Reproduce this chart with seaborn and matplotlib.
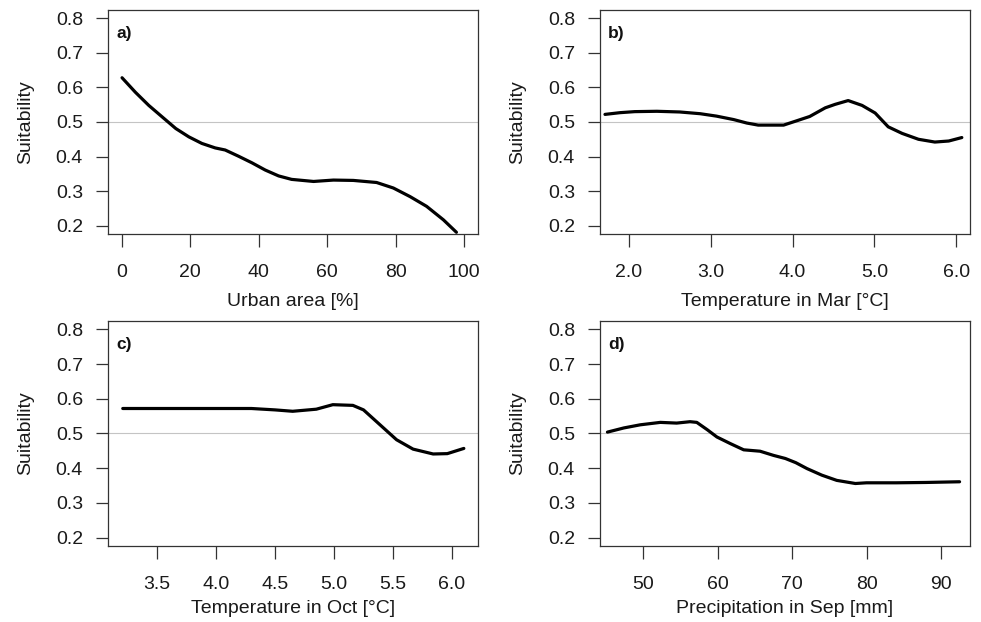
import seaborn as sns
import matplotlib.pyplot as plt
import pandas as pd
import numpy as np

# -------------------------------
# Response curves
# -------------------------------
urban_x = [0.1, 4.0, 7.9, 11.9, 15.8, 19.6, 23.4, 27.3, 30.2, 34.1, 38.0, 41.9, 45.8,
           49.6, 56.0, 61.8, 67.6, 74.4, 79.3, 84.2, 89.0, 93.9, 97.7]
urban_y = [0.628, 0.586, 0.548, 0.514, 0.481, 0.457, 0.438, 0.425, 0.419, 0.401, 0.382,
           0.361, 0.344, 0.334, 0.328, 0.332, 0.331, 0.325, 0.309, 0.284, 0.256, 0.217, 0.181]

tmar_x = [1.706, 1.89, 2.07, 2.34, 2.62, 2.87, 3.07, 3.28, 3.44, 3.58, 3.89, 4.07, 4.21,
          4.40, 4.52, 4.68, 4.85, 5.01, 5.17, 5.34, 5.54, 5.74, 5.91, 6.07]
tmar_y = [0.522, 0.527, 0.530, 0.531, 0.529, 0.524, 0.517, 0.507, 0.497, 0.491, 0.491,
          0.505, 0.516, 0.541, 0.551, 0.562, 0.548, 0.526, 0.486, 0.467, 0.450, 0.442,
          0.445, 0.455]

toct_x = [3.21, 3.6, 4.0, 4.3, 4.5, 4.65, 4.85, 4.99, 5.16, 5.25, 5.39, 5.53, 5.67, 5.84,
          5.96, 6.10]
toct_y = [0.572, 0.572, 0.572, 0.572, 0.568, 0.564, 0.570, 0.583, 0.581, 0.568, 0.525,
          0.482, 0.455, 0.441, 0.442, 0.457]

psep_x = [45.2, 47.4, 49.6, 52.3, 54.5, 56.3, 57.2, 58.6, 59.9, 61.7, 63.5, 65.7, 67.5,
          69.1, 70.5, 72.0, 74.0, 76.0, 78.5, 80.0, 84.0, 88.0, 92.5]
psep_y = [0.504, 0.516, 0.525, 0.532, 0.530, 0.534, 0.532, 0.511, 0.490, 0.471, 0.453,
          0.449, 0.437, 0.428, 0.416, 0.399, 0.380, 0.365, 0.356, 0.358, 0.358, 0.359, 0.361]

panels = [
    ("a)", "Urban area [%]", urban_x, urban_y, (-4, 104), [0, 20, 40, 60, 80, 100], "{:.0f}"),
    ("b)", "Temperature in Mar [°C]", tmar_x, tmar_y, (1.645, 6.17), [2, 3, 4, 5, 6], "{:.1f}"),
    ("c)", "Temperature in Oct [°C]", toct_x, toct_y, (3.085, 6.22), [3.5, 4, 4.5, 5, 5.5, 6], "{:.1f}"),
    ("d)", "Precipitation in Sep [mm]", psep_x, psep_y, (44.2, 93.9), [50, 60, 70, 80, 90], "{:.0f}"),
]

sns.set_style("ticks")
plt.rcParams["font.family"] = ["Liberation Sans", "DejaVu Sans"]

W, H = 981, 622
fig = plt.figure(figsize=(W / 100, H / 100), dpi=100)

# axes boxes in pixels: (left, top, right, bottom), plus x-label pad per row
boxes = [(108, 10, 478, 234, 9), (600, 10, 970, 234, 9),
         (108, 321, 478, 546, 5), (600, 321, 970, 546, 5)]

for (tag, xlab, xs, ys, xlim, xticks, fmt), (l, t, r, b, lpad) in zip(panels, boxes):
    ax = fig.add_axes([l / W, 1 - b / H, (r - l) / W, (b - t) / H])
    ax.axhline(0.5, color="#c4c4c4", lw=0.8, zorder=1)
    df = pd.DataFrame({"x": xs, "y": ys})
    sns.lineplot(data=df, x="x", y="y", ax=ax, color="black", lw=2.3, zorder=3)
    ax.set_xlim(*xlim)
    ax.set_ylim(0.176, 0.824)
    ax.set_yticks([0.2, 0.3, 0.4, 0.5, 0.6, 0.7, 0.8])
    ax.set_yticklabels([f"{v:.1f}" for v in ax.get_yticks()])
    ax.set_xticks(xticks)
    ax.set_xticklabels([fmt.format(v) for v in xticks])
    ax.tick_params(axis="both", length=9, width=0.9, color="#333333",
                   labelsize=14, labelcolor="#1a1a1a")
    ax.tick_params(axis="y", pad=9)
    ax.tick_params(axis="x", pad=12.5)
    for s in ax.spines.values():
        s.set_visible(True)
        s.set_color("#333333")
        s.set_linewidth(0.9)
    ax.set_xlabel(xlab, fontsize=14, color="#1a1a1a", labelpad=lpad)
    ax.set_ylabel("Suitability", fontsize=14, color="#1a1a1a", labelpad=15.5)
    ax.text(0.022, 0.927, tag, transform=ax.transAxes, fontsize=12.5,
            fontweight="bold", ha="left", va="top", color="#111111")

plt.savefig("out.png", dpi=100)
plt.close()
